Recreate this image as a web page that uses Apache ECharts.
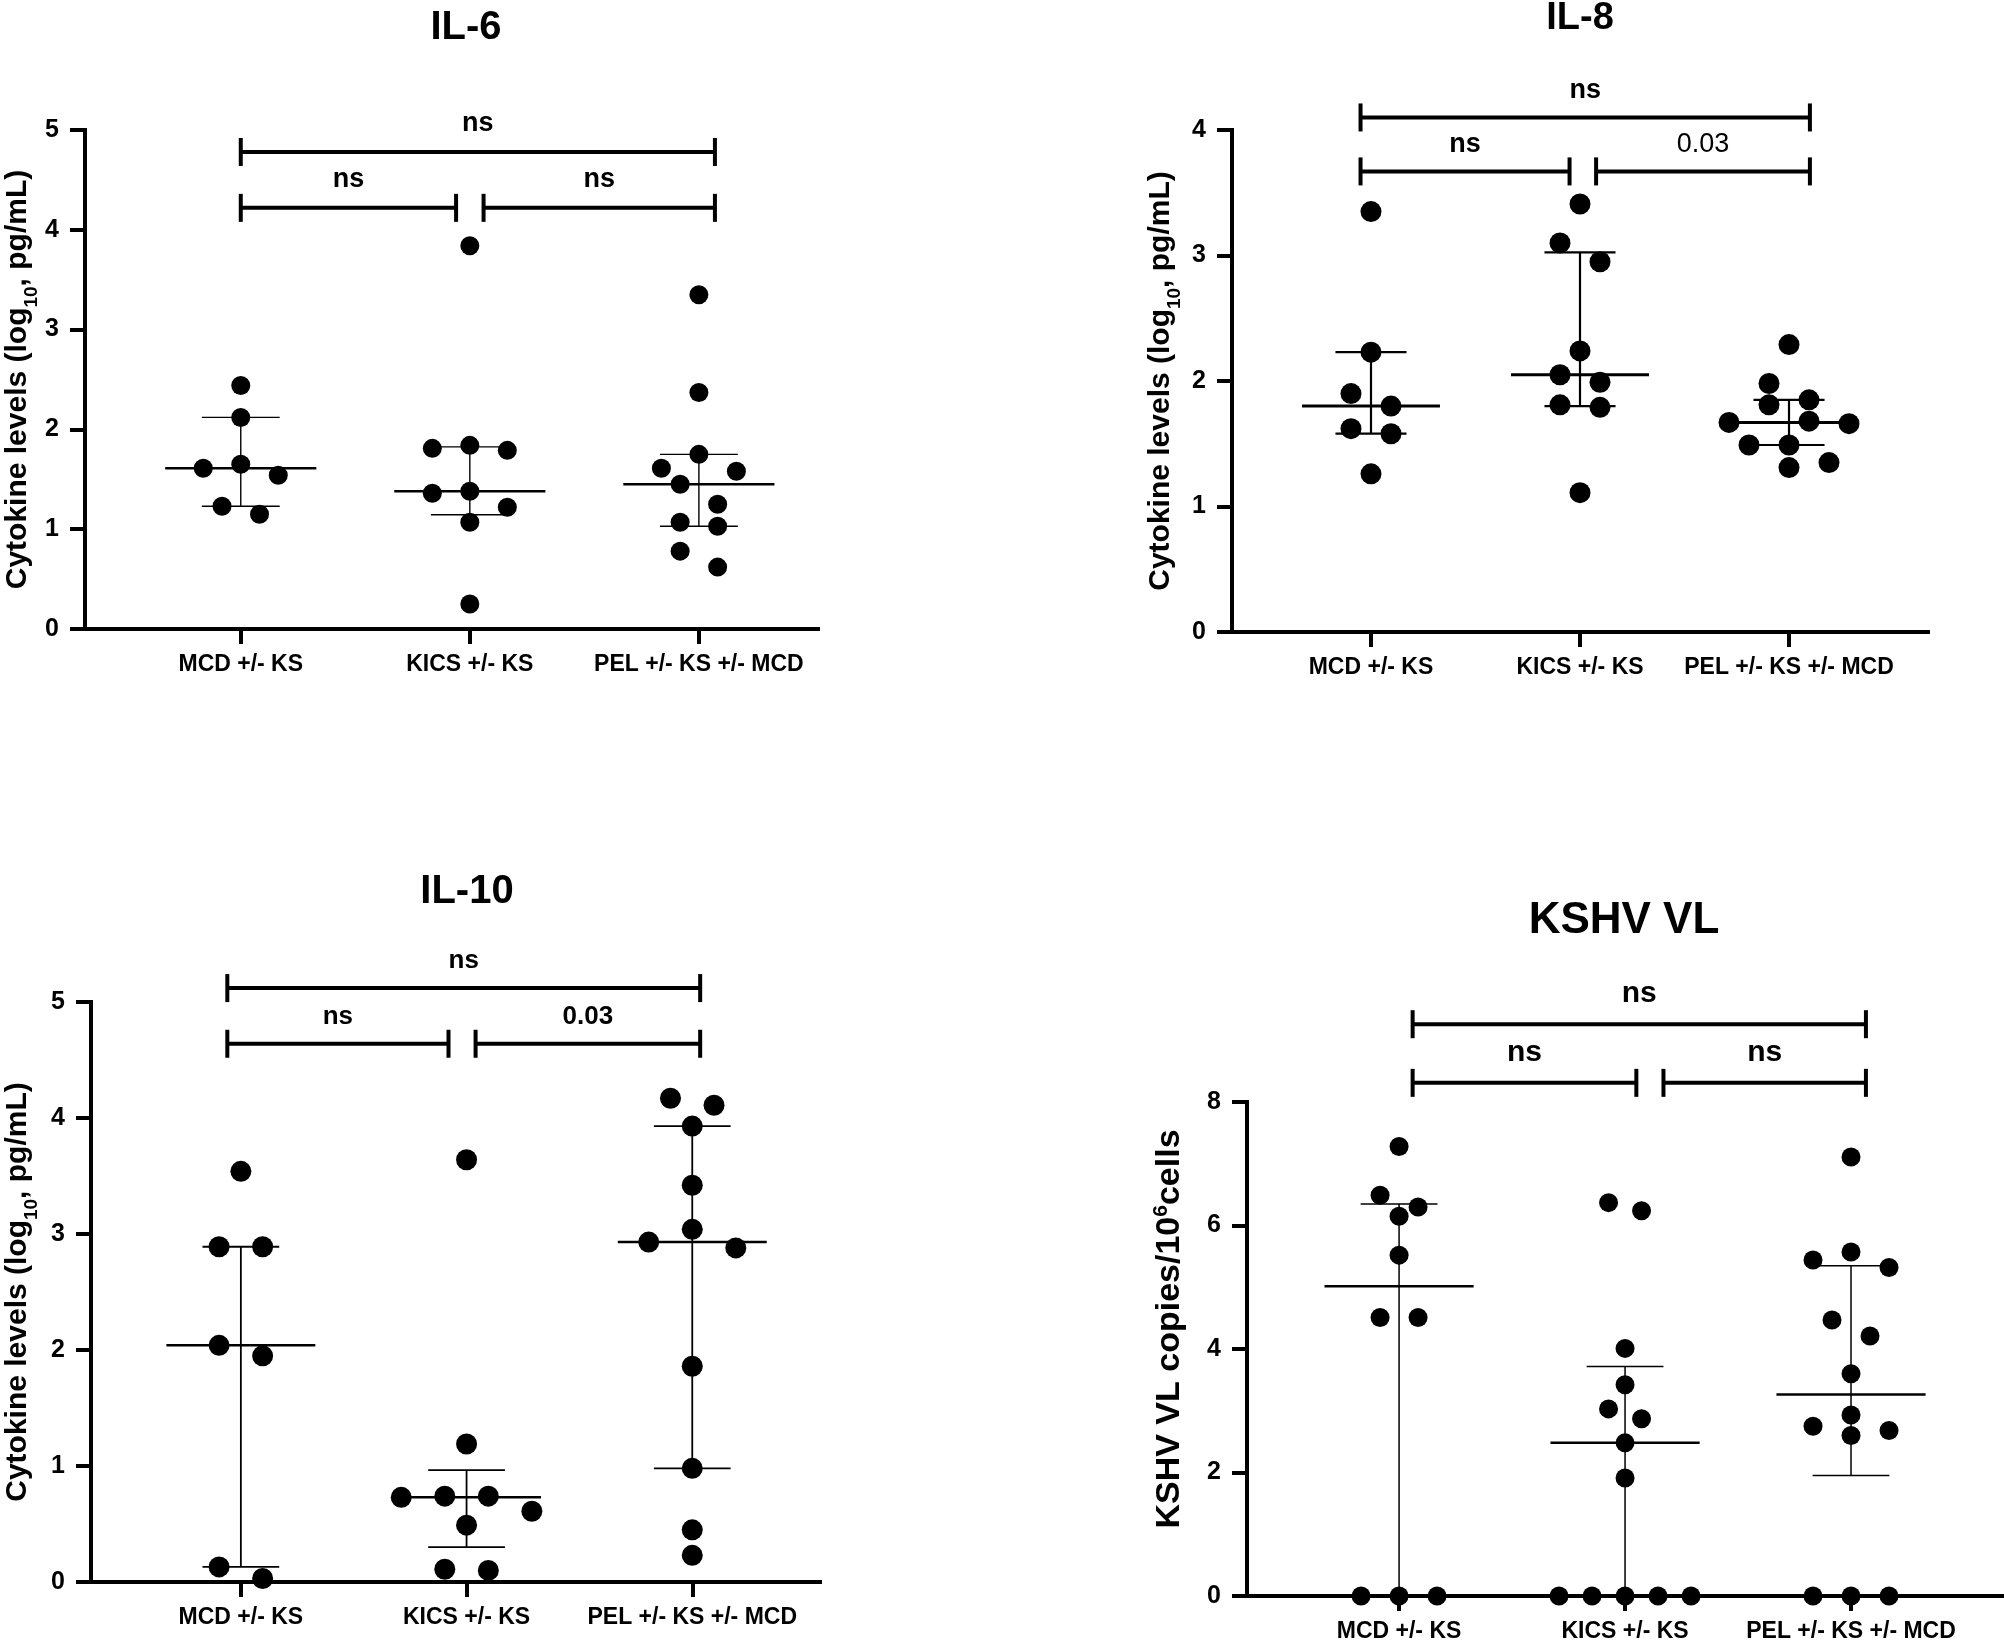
<!DOCTYPE html>
<html>
<head>
<meta charset="utf-8">
<script src="https://cdn.jsdelivr.net/npm/echarts@6/dist/echarts.min.js"></script>
<style>
html,body{margin:0;padding:0;background:#fff;}
#chart{width:2004px;height:1643px;}
</style>
</head>
<body>
<div id="chart"></div>
<script>
// ---------------- DATA ----------------
const categories = ['MCD +/- KS', 'KICS +/- KS', 'PEL +/- KS +/- MCD'];
const panelTitles = ['IL-6', 'IL-8', 'IL-10', 'KSHV VL'];
const cytokineAxisName = 'Cytokine levels (log{sub|10}, pg/mL)';
const kshvAxisName = 'KSHV VL copies/10{sup|6}cells';

const il6Ticks = [0, 1, 2, 3, 4, 5];
const il8Ticks = [0, 1, 2, 3, 4];
const il10Ticks = [0, 1, 2, 3, 4, 5];
const kshvTicks = [0, 2, 4, 6, 8];

const il6_MCD  = [2.44, 2.12, 1.65, 1.61, 1.54, 1.23, 1.15];
const il6_KICS = [3.84, 1.84, 1.81, 1.79, 1.38, 1.36, 1.22, 1.07, 0.25];
const il6_PEL  = [3.35, 2.37, 1.75, 1.61, 1.58, 1.45, 1.25, 1.07, 1.03, 0.78, 0.62];

const il8_MCD  = [3.35, 2.23, 1.90, 1.80, 1.62, 1.58, 1.26];
const il8_KICS = [3.41, 3.10, 2.95, 2.24, 2.05, 1.99, 1.81, 1.79, 1.11];
const il8_PEL  = [2.29, 1.98, 1.85, 1.81, 1.68, 1.67, 1.66, 1.49, 1.49, 1.35, 1.31];

const il10_MCD  = [3.54, 2.89, 2.89, 2.04, 1.95, 0.13, 0.03];
const il10_KICS = [3.64, 1.19, 0.74, 0.74, 0.73, 0.61, 0.49, 0.11, 0.10];
const il10_PEL  = [4.17, 4.11, 3.93, 3.42, 3.04, 2.93, 2.88, 1.86, 0.98, 0.45, 0.23];

const kshv_MCD  = [7.28, 6.49, 6.30, 6.15, 5.52, 4.51, 4.51, 0, 0, 0];
const kshv_KICS = [6.37, 6.24, 4.01, 3.42, 3.03, 2.87, 2.48, 1.91, 0, 0, 0, 0, 0];
const kshv_PEL  = [7.11, 5.57, 5.44, 5.32, 4.47, 4.21, 3.60, 2.93, 2.75, 2.68, 2.60, 0, 0, 0];

// comparison results: [MCD vs KICS, KICS vs PEL, MCD vs PEL]
const il6Tests  = ['ns', 'ns', 'ns'];
const il8Tests  = ['ns', '0.03', 'ns'];
const il10Tests = ['ns', '0.03', 'ns'];
const kshvTests = ['ns', 'ns', 'ns'];

// ---------------- LAYOUT / STYLE ----------------
const FONT = "'Liberation Sans', Arial, Helvetica, sans-serif";

const panels = [
  { title: panelTitles[0], groups: [il6_MCD, il6_KICS, il6_PEL], ticks: il6Ticks, tests: il6Tests,
    axisName: cytokineAxisName, nameSize: 30, nameGap: 50, namePad: 0,
    grid: { left: 83, top: 130, width: 735, height: 499 }, xMin: 0.32, xMax: 3.52,
    titleX: 466, titleY: 28, titleSize: 40,
    slotPx: 18.8, dot: 19, medW: 2.5, barW: 1.4,
    br: { low: 4.22, high: 4.78, spans: [[1.0, 1.94], [2.06, 3.07], [1.0, 3.07]], font: 27, off: 28, numWeight: 'bold' } },
  { title: panelTitles[1], groups: [il8_MCD, il8_KICS, il8_PEL], ticks: il8Ticks, tests: il8Tests,
    axisName: cytokineAxisName, nameSize: 30, nameGap: 54, namePad: 0,
    grid: { left: 1232, top: 130, width: 696, height: 502 }, xMin: 0.335, xMax: 3.665,
    titleX: 1580, titleY: 19, titleSize: 38,
    slotPx: 20, dot: 21, medW: 3, barW: 2.2,
    br: { low: 3.67, high: 4.10, spans: [[0.95, 1.95], [2.077, 3.10], [0.95, 3.10]], font: 27, off: 27, numWeight: 'normal' } },
  { title: panelTitles[2], groups: [il10_MCD, il10_KICS, il10_PEL], ticks: il10Ticks, tests: il10Tests,
    axisName: cytokineAxisName, nameSize: 30, nameGap: 56, namePad: 0,
    grid: { left: 90, top: 1002, width: 730, height: 580 }, xMin: 0.336, xMax: 3.566,
    titleX: 467, titleY: 892, titleSize: 40,
    slotPx: 21.8, dot: 21, medW: 2.5, barW: 1.8,
    br: { low: 4.64, high: 5.12, spans: [[0.94, 1.92], [2.04, 3.035], [0.94, 3.035]], font: 26, off: 27, numWeight: 'bold' } },
  { title: panelTitles[3], groups: [kshv_MCD, kshv_KICS, kshv_PEL], ticks: kshvTicks, tests: kshvTests,
    axisName: kshvAxisName, nameSize: 34, nameGap: 58, namePad: 40,
    grid: { left: 1247, top: 1102, width: 757, height: 494 }, xMin: 0.327, xMax: 3.677,
    titleX: 1624, titleY: 921, titleSize: 44,
    slotPx: 19, dot: 19, medW: 2.5, barW: 1.5,
    br: { low: 8.31, high: 9.26, spans: [[1.06, 2.05], [2.17, 3.066], [1.06, 3.066]], font: 30, off: 30, numWeight: 'bold' } }
];

// ---------------- HELPERS ----------------
// GraphPad-style percentile (n+1 method)
function percentile(vals, p) {
  const s = vals.slice().sort((a, b) => a - b);
  const n = s.length;
  const pos = p * (n + 1);
  if (pos <= 1) return s[0];
  if (pos >= n) return s[n - 1];
  const lo = Math.floor(pos), f = pos - lo;
  return s[lo - 1] + f * (s[lo] - s[lo - 1]);
}

// Beeswarm-like slot assignment: bin into rows, centre each row on a half-slot grid
function slotsFor(values, pxPerUnit, rowPx) {
  const idx = values.map((v, i) => i).sort((a, b) => values[b] - values[a]);
  const rows = [];
  let cur = null;
  idx.forEach(i => {
    if (cur && (values[cur[0]] - values[i]) * pxPerUnit < rowPx) cur.push(i);
    else { cur = [i]; rows.push(cur); }
  });
  const slot = new Array(values.length).fill(0);
  rows.forEach(r => {
    const n = r.length;
    const pos = [];
    for (let k = 0; k < n; k++) pos.push(-(n - 1) + 2 * k);
    pos.sort((a, b) => Math.abs(a) - Math.abs(b) || a - b);
    r.forEach((i, k) => { slot[i] = pos[k]; });
  });
  return slot;
}

// ---------------- BUILD OPTION ----------------
const option = {
  backgroundColor: '#ffffff',
  animation: false,
  title: [], grid: [], xAxis: [], yAxis: [], series: []
};

panels.forEach((P, pi) => {
  const yMin = P.ticks[0], yMax = P.ticks[P.ticks.length - 1];
  const yPx = P.grid.height / (yMax - yMin);
  const xPx = P.grid.width / (P.xMax - P.xMin);

  option.title.push({
    text: P.title, left: P.titleX, top: P.titleY, textAlign: 'center', textVerticalAlign: 'middle', padding: 0,
    textStyle: { fontSize: P.titleSize, fontWeight: 'bold', fontFamily: FONT, color: '#000' }
  });

  option.grid.push(Object.assign({ containLabel: false }, P.grid));

  option.xAxis.push({
    type: 'value', gridIndex: pi, min: P.xMin, max: P.xMax,
    splitLine: { show: false },
    axisLine: { show: true, onZero: false, lineStyle: { color: '#000', width: 4, cap: 'square' } },
    axisTick: { show: true, customValues: [1, 2, 3], length: 15, lineStyle: { color: '#000', width: 4 } },
    axisLabel: {
      customValues: [1, 2, 3], margin: 24,
      formatter: v => categories[Math.round(v) - 1] || '',
      fontSize: 23, fontWeight: 'bold', fontFamily: FONT, color: '#000'
    }
  });

  option.yAxis.push({
    type: 'value', gridIndex: pi, min: yMin, max: yMax, interval: P.ticks[1] - P.ticks[0],
    splitLine: { show: false },
    axisLine: { show: true, onZero: false, lineStyle: { color: '#000', width: 4, cap: 'square' } },
    axisTick: { show: true, length: 15, lineStyle: { color: '#000', width: 4 } },
    axisLabel: { margin: 26, fontSize: 25, fontWeight: 'bold', fontFamily: FONT, color: '#000' },
    name: P.axisName, nameLocation: 'middle', nameRotate: 90, nameGap: P.nameGap,
    nameTextStyle: {
      fontSize: P.nameSize, fontWeight: 'bold', fontFamily: FONT, color: '#000',
      lineHeight: P.nameSize + 4, padding: [0, 0, 0, P.namePad],
      rich: {
        sub: { fontSize: Math.round(P.nameSize * 0.62), fontWeight: 'bold', fontFamily: FONT, color: '#000',
               verticalAlign: 'bottom', lineHeight: P.nameSize + 4, padding: [0, 0, -6, 0] },
        sup: { fontSize: Math.round(P.nameSize * 0.62), fontWeight: 'bold', fontFamily: FONT, color: '#000',
               verticalAlign: 'top', lineHeight: P.nameSize + 4 }
      }
    }
  });

  // dots
  const maxHalf = 66;
  const scatterData = [];
  const errData = [];
  P.groups.forEach((vals, g) => {
    const slots = slotsFor(vals, yPx, 20);
    const maxSlot = Math.max(1, ...slots.map(Math.abs));
    const h = Math.min(P.slotPx, maxHalf / maxSlot);
    vals.forEach((v, i) => {
      scatterData.push([g + 1 + slots[i] * h / xPx, v]);
    });
    errData.push([g + 1, percentile(vals, 0.25), percentile(vals, 0.5), percentile(vals, 0.75)]);
  });

  option.series.push({
    type: 'scatter', xAxisIndex: pi, yAxisIndex: pi, data: scatterData,
    symbol: 'circle', symbolSize: P.dot, clip: false, z: 3,
    itemStyle: { color: '#000', opacity: 1 }, silent: true
  });

  // median + interquartile range
  option.series.push({
    type: 'custom', xAxisIndex: pi, yAxisIndex: pi, data: errData, z: 4, silent: true,
    encode: { x: 0, y: [1, 2, 3] },
    renderItem: (params, api) => {
      const x = api.value(0);
      const pQ1 = api.coord([x, api.value(1)]);
      const pMed = api.coord([x, api.value(2)]);
      const pQ3 = api.coord([x, api.value(3)]);
      const unit = api.size([1, 0])[0];
      const hm = 0.33 * unit, hc = 0.17 * unit;
      const st = w => ({ stroke: '#000', lineWidth: w, fill: null });
      return {
        type: 'group', children: [
          { type: 'line', shape: { x1: pQ1[0], y1: pQ1[1], x2: pQ3[0], y2: pQ3[1] }, style: st(P.barW) },
          { type: 'line', shape: { x1: pQ1[0] - hc, y1: pQ1[1], x2: pQ1[0] + hc, y2: pQ1[1] }, style: st(P.barW) },
          { type: 'line', shape: { x1: pQ3[0] - hc, y1: pQ3[1], x2: pQ3[0] + hc, y2: pQ3[1] }, style: st(P.barW) },
          { type: 'line', shape: { x1: pMed[0] - hm, y1: pMed[1], x2: pMed[0] + hm, y2: pMed[1] }, style: st(P.medW) }
        ]
      };
    }
  });

  // significance brackets
  const B = P.br;
  const brData = B.spans.map((s, k) => [s[0], s[1], k < 2 ? B.low : B.high, k]);
  option.series.push({
    type: 'custom', xAxisIndex: pi, yAxisIndex: pi, data: brData, z: 5, clip: false, silent: true,
    encode: { x: [0, 1], y: 2 },
    renderItem: (params, api) => {
      const a = api.coord([api.value(0), api.value(2)]);
      const b = api.coord([api.value(1), api.value(2)]);
      const k = api.value(3);
      const txt = P.tests[k];
      const isNum = /\d/.test(txt);
      const weight = isNum ? B.numWeight : 'bold';
      const st = { stroke: '#000', lineWidth: 4, fill: null };
      return {
        type: 'group', children: [
          { type: 'line', shape: { x1: a[0], y1: a[1], x2: b[0], y2: b[1] }, style: st },
          { type: 'line', shape: { x1: a[0], y1: a[1] - 14, x2: a[0], y2: a[1] + 14 }, style: st },
          { type: 'line', shape: { x1: b[0], y1: b[1] - 14, x2: b[0], y2: b[1] + 14 }, style: st },
          { type: 'text', style: {
              text: txt, x: (a[0] + b[0]) / 2, y: a[1] - B.off,
              font: weight + ' ' + B.font + 'px ' + FONT, fill: '#000',
              align: 'center', verticalAlign: 'middle', textAlign: 'center', textVerticalAlign: 'middle'
          } }
        ]
      };
    }
  });
});

const chart = echarts.init(document.getElementById('chart'), null, { renderer: 'canvas' });
chart.setOption(option);
</script>
</body>
</html>
